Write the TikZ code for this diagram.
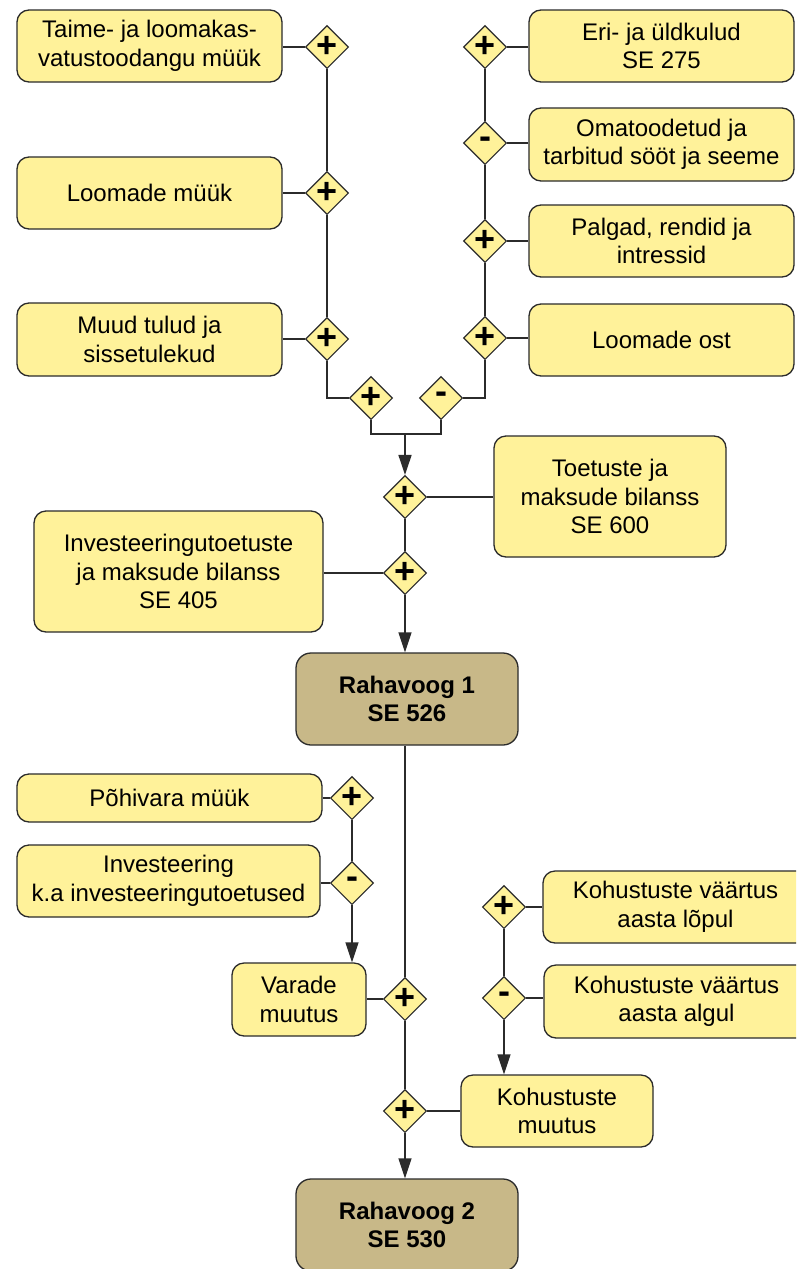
\documentclass[tikz,border=0pt]{standalone}
\usepackage{fontspec}
\setmainfont{Liberation Sans}
\usetikzlibrary{shapes.geometric,arrows.meta}
\definecolor{yel}{HTML}{FFF29A}
\definecolor{tan}{HTML}{C8B888}
\definecolor{ln}{HTML}{2B2B2B}
\tikzset{
  box/.style={draw=ln, line width=1.3pt, fill=yel, rounded corners=12pt, align=center, inner sep=0pt,
    font=\fontsize{24}{28.5}\selectfont},
  mainbox/.style={box, fill=tan, rounded corners=15pt, font=\bfseries\fontsize{24}{28.5}\selectfont},
  gate/.style={diamond, draw=ln, line width=1.1pt, fill=yel, minimum width=43pt, minimum height=43pt, inner sep=0pt,
    font=\bfseries\fontsize{36}{36}\selectfont},
  conn/.style={draw=ln, line width=1.4pt},
  arr/.style={conn, -{Triangle[length=20pt,width=13pt]}}
}
\begin{document}
\begin{tikzpicture}[x=1pt,y=-1pt]
\clip (0,0) rectangle (796,1269);
\fill[white] (0,0) rectangle (796,1269);
% left top column
\node[box, minimum width=265pt, minimum height=72pt] (A) at (149.5,46) {Taime- ja loomakas-\\vatustoodangu müük};
\node[box, minimum width=265pt, minimum height=72pt] (B) at (149.5,193) {Loomade müük};
\node[box, minimum width=265pt, minimum height=73pt] (C) at (149.5,339.5) {Muud tulud ja\\sissetulekud};
\node[gate] (dA) at (327,47) {+};
\node[gate] (dB) at (327,193) {+};
\node[gate] (dC) at (327,339) {+};
% right top column
\node[box, minimum width=265pt, minimum height=72pt] (E) at (661.5,46) {Eri- ja üldkulud\\SE 275};
\node[box, minimum width=265pt, minimum height=73pt] (F) at (661.5,144.5) {Omatoodetud ja\\tarbitud sööt ja seeme};
\node[box, minimum width=265pt, minimum height=72pt] (G) at (661.5,241) {Palgad, rendid ja\\intressid};
\node[box, minimum width=265pt, minimum height=72pt] (H) at (661.5,340) {Loomade ost};
\node[gate] (dE) at (485,47) {+};
\node[gate] (dF) at (485,143) {-};
\node[gate] (dG) at (485,241) {+};
\node[gate] (dH) at (485,338) {+};
% merge gates
\node[gate] (dL) at (371,398) {+};
\node[gate] (dR) at (441,398) {-};
\coordinate (j) at (405,434);
% subsidies
\node[gate] (dS1) at (405,497) {+};
\node[gate] (dS2) at (405,573) {+};
\node[box, minimum width=232pt, minimum height=121pt] (T) at (610,496.5) {Toetuste ja\\maksude bilanss\\SE 600};
\node[box, minimum width=289pt, minimum height=121pt] (I) at (178.5,571.5) {Investeeringutoetuste\\ja maksude bilanss\\SE 405};
\node[mainbox, minimum width=222pt, minimum height=92pt] (R1) at (407,699) {Rahavoog 1\\SE 526};
% assets
\node[box, minimum width=305pt, minimum height=48pt] (P) at (169.5,798) {Põhivara müük};
\node[box, minimum width=303pt, minimum height=72pt] (Inv) at (168.5,881) {Investeering\\k.a investeeringutoetused};
\node[gate] (dP) at (352,798) {+};
\node[gate] (dI) at (352,883) {-};
\node[box, minimum width=134pt, minimum height=73pt] (V) at (299,999.5) {Varade\\muutus};
\node[gate] (dV) at (405,999) {+};
% liabilities
\node[box, minimum width=265pt, minimum height=72pt] (KL) at (675.5,907) {Kohustuste väärtus\\aasta lõpul};
\node[box, minimum width=265pt, minimum height=73pt] (KA) at (676.5,1001.5) {Kohustuste väärtus\\aasta algul};
\node[gate] (dKL) at (504,907) {+};
\node[gate] (dKA) at (504,998) {-};
\node[box, minimum width=192pt, minimum height=72pt] (KM) at (557,1111) {Kohustuste\\muutus};
\node[gate] (dK) at (405,1111) {+};
\node[mainbox, minimum width=222pt, minimum height=92pt] (R2) at (407,1225) {Rahavoog 2\\SE 530};
% connectors top-left
\draw[conn] (dA.west) -- (dA.west -| A.east);
\draw[conn] (dB.west) -- (dB.west -| B.east);
\draw[conn] (dC.west) -- (dC.west -| C.east);
\draw[conn] (dA.south) -- (dB.north);
\draw[conn] (dB.south) -- (dC.north);
\draw[conn] (dC.south) |- (dL.west);
% connectors top-right
\draw[conn] (dE.east) -- (dE.east -| E.west);
\draw[conn] (dF.east) -- (dF.east -| F.west);
\draw[conn] (dG.east) -- (dG.east -| G.west);
\draw[conn] (dH.east) -- (dH.east -| H.west);
\draw[conn] (dE.south) -- (dF.north);
\draw[conn] (dF.south) -- (dG.north);
\draw[conn] (dG.south) -- (dH.north);
\draw[conn] (dH.south) |- (dR.east);
% bracket
\draw[conn] (dL.south) |- (j) -| (dR.south);
\draw[arr] (j) -- (dS1.north);
\draw[conn] (dS1.east) -- (dS1.east -| T.west);
\draw[conn] (dS1.south) -- (dS2.north);
\draw[conn] (dS2.west) -- (dS2.west -| I.east);
\draw[arr] (dS2.south) -- (dS2.south |- R1.north);
% lower trunk
\draw[conn] (R1.south -| dS2) -- (dV.north);
\draw[conn] (dV.south) -- (dK.north);
\draw[arr] (dK.south) -- (dK.south |- R2.north);
% assets
\draw[conn] (dP.west) -- (dP.west -| P.east);
\draw[conn] (dI.west) -- (dI.west -| Inv.east);
\draw[conn] (dP.south) -- (dI.north);
\draw[arr] (dI.south) -- (dI.south |- V.north);
\draw[conn] (dV.west) -- (dV.west -| V.east);
% liabilities
\draw[conn] (dKL.east) -- (dKL.east -| KL.west);
\draw[conn] (dKA.east) -- (dKA.east -| KA.west);
\draw[conn] (dKL.south) -- (dKA.north);
\draw[arr] (dKA.south) -- (dKA.south |- KM.north);
\draw[conn] (dK.east) -- (dK.east -| KM.west);
\end{tikzpicture}
\end{document}
